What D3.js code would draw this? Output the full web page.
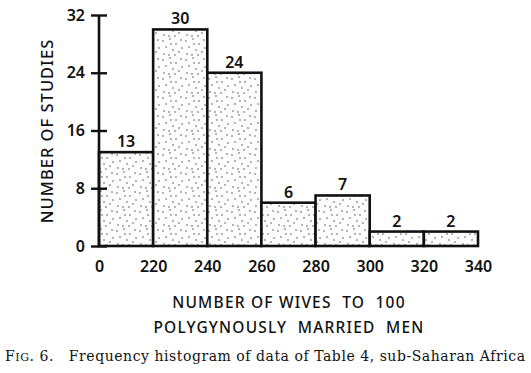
<!DOCTYPE html>
<html>
<head>
<meta charset="utf-8">
<script src="https://cdn.jsdelivr.net/npm/d3@7"></script>
<style>
  body { margin: 0; background: #fff; }
  svg text { fill: #111; white-space: pre; }
</style>
</head>
<body>
<script>
// histogram data
var binEdges = ["0", "220", "240", "260", "280", "300", "320", "340"];
var counts = [13, 30, 24, 6, 7, 2, 2];
var yTicks = [0, 8, 16, 24, 32];

var width = 531, height = 373;
var mLeft = 99, mRight = 478, mTop = 15, mBottom = 246;

var svg = d3.select("body").append("svg")
    .attr("width", width)
    .attr("height", height);

// stipple pattern
var defs = svg.append("defs");
var pat = defs.append("pattern")
    .attr("id", "dots")
    .attr("patternUnits", "userSpaceOnUse")
    .attr("width", 23).attr("height", 19);
pat.append("rect").attr("width", 23).attr("height", 19).attr("fill", "#fdfdfd");
var dotPos = [[2,3],[9,1],[15,6],[20,2],[5,9],[12,12],[18,14],[3,16],[8,17],[21,10],[14,17],[10,6]];
pat.selectAll("circle").data(dotPos).enter().append("circle")
    .attr("cx", function(d) { return d[0]; })
    .attr("cy", function(d) { return d[1]; })
    .attr("r", 0.7)
    .attr("fill", "#333");

var x = d3.scaleLinear().domain([0, counts.length]).range([mLeft, mRight]);
var y = d3.scaleLinear().domain([0, 32]).range([mBottom, mTop]);

var font = "'Noto Sans', 'DejaVu Sans', sans-serif";

// bars
svg.selectAll("rect.bar").data(counts).enter().append("rect")
    .attr("class", "bar")
    .attr("x", function(d, i) { return x(i); })
    .attr("y", function(d) { return y(d); })
    .attr("width", function(d, i) { return x(i + 1) - x(i); })
    .attr("height", function(d) { return y(0) - y(d); })
    .attr("fill", "url(#dots)")
    .attr("stroke", "#111")
    .attr("stroke-width", 2.6);

// bar value labels
svg.selectAll("text.val").data(counts).enter().append("text")
    .attr("class", "val")
    .attr("x", function(d, i) { return (x(i) + x(i + 1)) / 2; })
    .attr("y", function(d) { return y(d) - 5; })
    .attr("text-anchor", "middle")
    .attr("font-family", font)
    .attr("font-weight", 600)
    .attr("font-size", 16)
    .text(function(d) { return d; });

// y axis
var yAxis = d3.axisLeft(y).tickValues(yTicks).tickSize(8).tickPadding(6);
var gy = svg.append("g").attr("transform", "translate(" + mLeft + ",0)").call(yAxis);
gy.select(".domain").attr("stroke", "#111").attr("stroke-width", 2.6).attr("d", "M0," + mTop + "V" + mBottom);
gy.selectAll(".tick line").attr("x1", 8).attr("x2", -8).attr("stroke", "#111").attr("stroke-width", 2.4);
gy.selectAll(".tick text")
    .attr("font-family", font).attr("font-weight", 600).attr("font-size", 16).attr("fill", "#111");

// x axis (labels at bin edges)
var xAxis = d3.axisBottom(x)
    .tickValues(d3.range(binEdges.length))
    .tickFormat(function(d) { return binEdges[d]; })
    .tickSize(0).tickPadding(15);
var gx = svg.append("g").attr("transform", "translate(0," + mBottom + ")").call(xAxis);
gx.select(".domain").remove();
gx.selectAll(".tick text")
    .attr("font-family", font).attr("font-weight", 600).attr("font-size", 16).attr("fill", "#111");

// axis titles
svg.append("text")
    .attr("transform", "translate(46,131) rotate(-90)")
    .attr("text-anchor", "middle")
    .attr("dominant-baseline", "central")
    .attr("font-family", font)
    .attr("font-weight", 500)
    .attr("font-size", 16.5)
    .attr("letter-spacing", 1.0)
    .text("NUMBER OF STUDIES");

svg.append("text")
    .attr("x", 289).attr("y", 308)
    .attr("text-anchor", "middle")
    .attr("font-family", font)
    .attr("font-weight", 500)
    .attr("font-size", 15.5)
    .attr("letter-spacing", 1.2)
    .text("NUMBER OF WIVES  TO  100");

svg.append("text")
    .attr("x", 289).attr("y", 333)
    .attr("text-anchor", "middle")
    .attr("font-family", font)
    .attr("font-weight", 500)
    .attr("font-size", 15.5)
    .attr("letter-spacing", 1.2)
    .text("POLYGYNOUSLY  MARRIED  MEN");

// caption
var cap = svg.append("text")
    .attr("x", 5).attr("y", 361)
    .attr("font-family", "'DejaVu Serif', 'Liberation Serif', serif")
    .attr("font-size", 14)
    .attr("textLength", 520)
    .attr("lengthAdjust", "spacing");
cap.append("tspan").text("F");
cap.append("tspan").attr("font-size", 11).text("IG");
cap.append("tspan").text(". 6.   Frequency histogram of data of Table 4, sub-Saharan Africa");
</script>
</body>
</html>
